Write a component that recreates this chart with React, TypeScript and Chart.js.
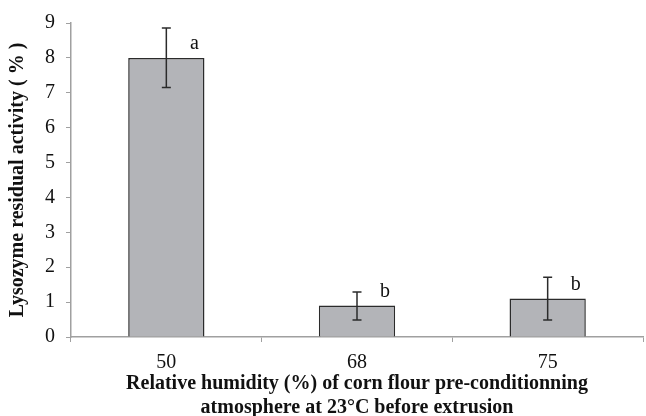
import React, { useEffect, useRef } from "react";
import { Chart, registerables } from "chart.js";

Chart.register(...registerables);

const categories = ["50", "68", "75"];
const values = [8.0, 0.9, 1.1];
const errLow = [7.15, 0.49, 0.49];
const errHigh = [8.86, 1.29, 1.71];
const letters = ["a", "b", "b"];
const yTicks = [0, 1, 2, 3, 4, 5, 6, 7, 8, 9];

const FONT = "'Liberation Serif', 'Times New Roman', serif";

const errorPlugin = {
  id: "errbars",
  afterDatasetsDraw(chart: any) {
    const ctx = chart.ctx;
    const meta = chart.getDatasetMeta(0);
    const ys = chart.scales.y;
    ctx.save();
    ctx.strokeStyle = "#2b2b2b";
    ctx.lineWidth = 1.5;
    meta.data.forEach((bar: any, i: number) => {
      const x = bar.x;
      const yh = ys.getPixelForValue(errHigh[i]);
      const yl = ys.getPixelForValue(errLow[i]);
      ctx.beginPath();
      ctx.moveTo(x, yh);
      ctx.lineTo(x, yl);
      ctx.moveTo(x - 4.5, yh);
      ctx.lineTo(x + 4.5, yh);
      ctx.moveTo(x - 4.5, yl);
      ctx.lineTo(x + 4.5, yl);
      ctx.stroke();
      ctx.fillStyle = "#111";
      ctx.font = `20px ${FONT}`;
      ctx.textAlign = "center";
      ctx.textBaseline = "middle";
      const yt = ys.getPixelForValue(values[i]);
      ctx.fillText(letters[i], x + 28, yt - 14);
    });
    ctx.restore();
  },
};

export default function App() {
  const ref = useRef<HTMLCanvasElement>(null);
  useEffect(() => {
    document.body.style.margin = "0";
    const chart = new Chart(ref.current!, {
      type: "bar",
      data: {
        labels: categories,
        datasets: [
          {
            data: values,
            backgroundColor: "#b3b4b8",
            borderColor: "#2b2b2b",
            borderWidth: 1.5,
            barPercentage: 0.4,
            categoryPercentage: 1,
          },
        ],
      },
      options: {
        animation: false,
        responsive: false,
        maintainAspectRatio: false,
        layout: { padding: { top: 8, right: 3, left: 6, bottom: -4 } },
        plugins: { legend: { display: false }, tooltip: { enabled: false } },
        scales: {
          x: {
            offset: true,
            grid: {
              offset: true,
              drawOnChartArea: false,
              drawTicks: true,
              tickLength: 5,
              color: "#a0a0a0",
            },
            border: { color: "#a0a0a0", width: 1.5 },
            ticks: { color: "#111", font: { family: FONT, size: 20, lineHeight: 1.1 }, padding: 10 },
            title: {
              display: true,
              text: [
                "Relative humidity (%) of corn flour pre-conditionning",
                "atmosphere at 23°C before extrusion",
              ],
              color: "#111",
              font: { family: FONT, size: 20, weight: "bold", lineHeight: 1.2 },
              padding: { top: -12, bottom: 0 },
            },
          },
          y: {
            min: 0,
            max: 9,
            afterBuildTicks: (axis: any) => {
              axis.ticks = yTicks.map((v) => ({ value: v }));
            },
            grid: {
              drawOnChartArea: false,
              drawTicks: true,
              tickLength: 5,
              color: "#a0a0a0",
            },
            border: { color: "#a0a0a0", width: 1.5 },
            ticks: { color: "#111", font: { family: FONT, size: 20 }, padding: 11 },
            title: {
              display: true,
              text: "Lysozyme residual activity ( % )",
              color: "#111",
              font: { family: FONT, size: 20, weight: "bold" },
              padding: { top: 0, bottom: 4 },
            },
          },
        },
      },
      plugins: [errorPlugin],
    });
    return () => chart.destroy();
  }, []);
  return (
    <div style={{ width: 646, height: 416 }}>
      <canvas ref={ref} width={646} height={416} />
    </div>
  );
}
